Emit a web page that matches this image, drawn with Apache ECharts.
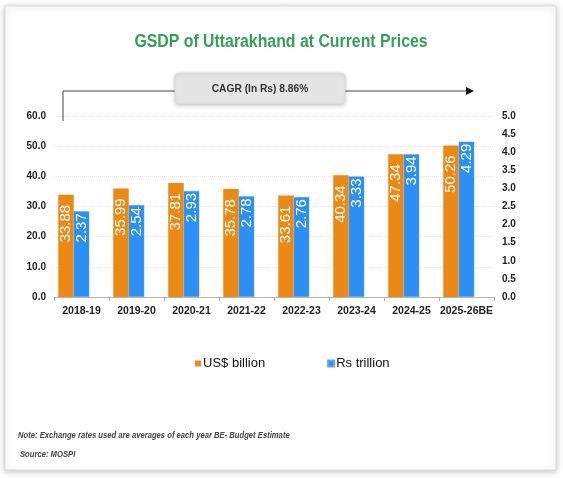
<!DOCTYPE html>
<html><head><meta charset="utf-8">
<script src="https://cdn.jsdelivr.net/npm/echarts@6/dist/echarts.min.js"></script>
<style>html,body{margin:0;padding:0;background:#fff}#c{width:563px;height:478px}</style>
</head><body><div id="c"></div>
<script>
const categories = ['2018-19','2019-20','2020-21','2021-22','2022-23','2023-24','2024-25','2025-26BE'];
const usdBillion = [33.88,35.99,37.81,35.78,33.61,40.34,47.34,50.26];
const rsTrillion = [2.37,2.54,2.93,2.78,2.76,3.33,3.94,4.29];
const leftTicks = {min:0,max:60,interval:10};
const rightTicks = {min:0,max:5,interval:0.5};
const titleText = 'GSDP of Uttarakhand at Current Prices';
const cagrText = 'CAGR (In Rs) 8.86%';
const noteText = 'Note: Exchange rates used are averages of each year BE- Budget Estimate';
const sourceText = 'Source: MOSPI';

const FONT = 'Liberation Sans, Arial, sans-serif';
const chart = echarts.init(document.getElementById('c'), null, {renderer:'canvas'});
const lbl = (dist) => ({
  show:true, position:'insideTop', rotate:90, align:'right', verticalAlign:'middle',
  distance:dist, color:'#fff', fontSize:15, fontFamily:FONT,
  formatter:p=>Number(p.value).toFixed(2)
});
chart.setOption({
  animation:false,
  backgroundColor:'#fff',
  legend:{data:['US$ billion','Rs trillion'],left:190,top:352,itemWidth:6,itemHeight:6,itemGap:62,icon:'rect',
    textStyle:{fontSize:13,color:'#111',fontFamily:FONT,padding:[0,0,0,-3]}},
  grid:{left:54,right:69,top:116,bottom:181},
  xAxis:{type:'category',data:categories,
    axisLine:{lineStyle:{color:'#b5b5b5'}},
    axisTick:{show:true,length:4,lineStyle:{color:'#b5b5b5'}},
    axisLabel:{fontWeight:'bold',fontSize:10.5,color:'#222',margin:9,fontFamily:FONT,interval:0}},
  yAxis:[
    {type:'value',min:leftTicks.min,max:leftTicks.max,interval:leftTicks.interval,
     axisLine:{show:false},axisTick:{show:false},
     splitLine:{show:true,lineStyle:{color:'#e6e6e6',type:'dotted'}},
     axisLabel:{fontWeight:'bold',fontSize:10,color:'#222',margin:8,fontFamily:FONT,formatter:v=>v.toFixed(1)}},
    {type:'value',min:rightTicks.min,max:rightTicks.max,interval:rightTicks.interval,
     axisLine:{show:false},axisTick:{show:false},splitLine:{show:false},
     axisLabel:{fontWeight:'bold',fontSize:10,color:'#222',margin:8,fontFamily:FONT,formatter:v=>v.toFixed(1)}}
  ],
  series:[
    {name:'US$ billion',type:'bar',yAxisIndex:0,data:usdBillion,barWidth:15.5,barGap:'0%',
     itemStyle:{color:'#ec8914'},label:lbl(10)},
    {name:'Rs trillion',type:'bar',yAxisIndex:1,data:rsTrillion,barWidth:15.5,barGap:'0%',
     itemStyle:{color:'#2b8ff3',borderColor:'#5aa9f5',borderWidth:0.5},label:lbl(2)},
    {name:'_pad',type:'bar',yAxisIndex:0,data:[],barWidth:15.5,barGap:'0%',silent:true}
  ],
  graphic:[
    {type:'rect',z:-10,shape:{x:5,y:6,width:551,height:464},
     style:{fill:'#fff',stroke:'#dcdcdc',lineWidth:1,shadowBlur:6,shadowColor:'rgba(0,0,0,0.25)',shadowOffsetY:1}},
    {type:'text',z:7,x:281,y:42,scaleX:0.88,style:{text:titleText,align:'center',verticalAlign:'middle',fontSize:18,fontWeight:'bold',fill:'#33a05a',fontFamily:FONT}},
    {type:'polyline',z:5,shape:{points:[[63,121],[63,91],[467,91]]},style:{stroke:'#444',lineWidth:1,fill:null}},
    {type:'polygon',z:5,shape:{points:[[466,87],[474,91],[466,95]]},style:{fill:'#111'}},
    {type:'rect',z:6,shape:{x:175,y:73,width:170,height:31,r:4},
     style:{fill:'#e5e5e5',stroke:'#d6d6d6',lineWidth:0.5,shadowBlur:4,shadowColor:'rgba(0,0,0,0.25)',shadowOffsetY:1}},
    {type:'text',z:7,x:260,y:89,scaleX:0.93,style:{text:cagrText,align:'center',verticalAlign:'middle',fontSize:11,fontWeight:'bold',fill:'#333',fontFamily:FONT}},
    {type:'text',z:7,x:18,y:436,scaleX:0.9,style:{text:noteText,verticalAlign:'middle',fontSize:8.5,fontWeight:'bold',fontStyle:'italic',fill:'#444',fontFamily:FONT}},
    {type:'text',z:7,x:20,y:455,scaleX:0.9,style:{text:sourceText,verticalAlign:'middle',fontSize:8.5,fontWeight:'bold',fontStyle:'italic',fill:'#444',fontFamily:FONT}}
  ]
});
</script></body></html>
